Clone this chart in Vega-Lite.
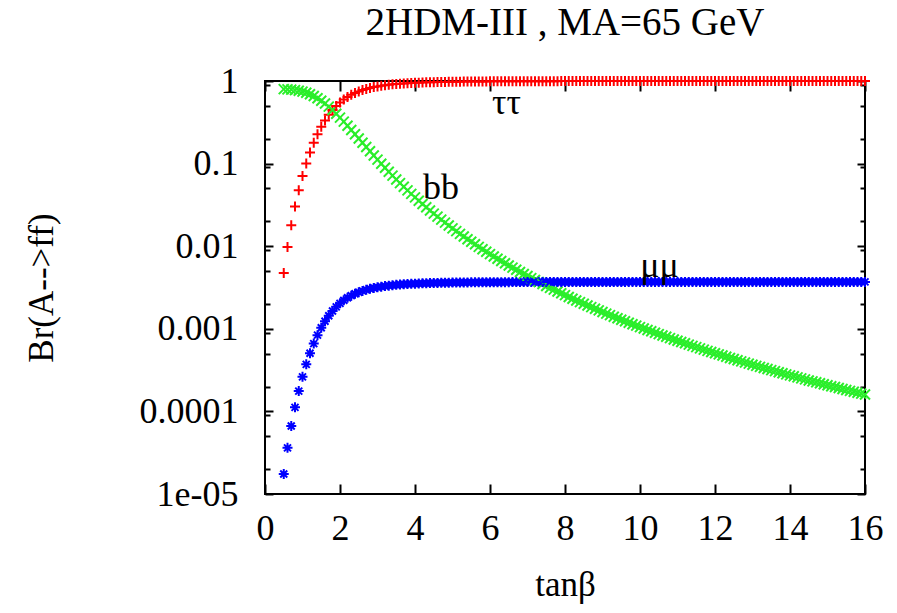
{
  "$schema": "https://vega.github.io/schema/vega-lite/v6.json",
  "width": 600,
  "height": 413,
  "autosize": "none",
  "padding": {"left": 265, "top": 81, "right": 32, "bottom": 119},
  "background": "white",
  "title": {"text": "2HDM-III , MA=65 GeV", "font": "Liberation Serif", "fontSize": 39, "fontWeight": "normal", "offset": 20, "anchor": "middle", "color": "black"},
  "config": {
    "view": {"stroke": "black", "strokeWidth": 2},
    "font": "Liberation Serif",
    "axis": {"labelFont": "Liberation Serif", "titleFont": "Liberation Serif", "labelColor": "black", "titleColor": "black", "titleFontWeight": "normal", "grid": false, "domain": false, "labelFlush": false, "labelOverlap": false}
  },
  "datasets": {
    "br": [
      {"t":0.5,"tt":0.00474,"bb":0.7965,"mm":0.0000175},
      {"t":0.6,"tt":0.00978,"bb":0.7925,"mm":0.0000362},
      {"t":0.7,"tt":0.01797,"bb":0.7859,"mm":0.0000665},
      {"t":0.8,"tt":0.03027,"bb":0.7761,"mm":0.000112},
      {"t":0.9,"tt":0.04763,"bb":0.7622,"mm":0.000176},
      {"t":1.0,"tt":0.0708,"bb":0.7436,"mm":0.000262},
      {"t":1.1,"tt":0.1004,"bb":0.720,"mm":0.000371},
      {"t":1.2,"tt":0.1365,"bb":0.691,"mm":0.000505},
      {"t":1.3,"tt":0.1788,"bb":0.657,"mm":0.000662},
      {"t":1.4,"tt":0.2265,"bb":0.619,"mm":0.000838},
      {"t":1.5,"tt":0.2784,"bb":0.5775,"mm":0.00103},
      {"t":1.6,"tt":0.3331,"bb":0.5337,"mm":0.001232},
      {"t":1.7,"tt":0.389,"bb":0.489,"mm":0.001439},
      {"t":1.8,"tt":0.4445,"bb":0.4446,"mm":0.001645},
      {"t":1.9,"tt":0.4983,"bb":0.4015,"mm":0.001844},
      {"t":2.0,"tt":0.5495,"bb":0.3606,"mm":0.002033},
      {"t":2.1,"tt":0.5971,"bb":0.3224,"mm":0.002209},
      {"t":2.2,"tt":0.641,"bb":0.2873,"mm":0.002372},
      {"t":2.3,"tt":0.6808,"bb":0.2554,"mm":0.002519},
      {"t":2.4,"tt":0.7166,"bb":0.2268,"mm":0.002651},
      {"t":2.5,"tt":0.7486,"bb":0.2012,"mm":0.00277},
      {"t":2.6,"tt":0.777,"bb":0.1785,"mm":0.002875},
      {"t":2.7,"tt":0.802,"bb":0.1585,"mm":0.002967},
      {"t":2.8,"tt":0.824,"bb":0.1408,"mm":0.003049},
      {"t":2.9,"tt":0.8435,"bb":0.1252,"mm":0.003121},
      {"t":3.0,"tt":0.8606,"bb":0.1116,"mm":0.003184},
      {"t":3.1,"tt":0.8756,"bb":0.0996,"mm":0.00324},
      {"t":3.2,"tt":0.8888,"bb":0.089,"mm":0.003289},
      {"t":3.3,"tt":0.9004,"bb":0.0797,"mm":0.003331},
      {"t":3.4,"tt":0.9106,"bb":0.0716,"mm":0.003369},
      {"t":3.5,"tt":0.9196,"bb":0.0643,"mm":0.003403},
      {"t":3.6,"tt":0.9275,"bb":0.058,"mm":0.003432},
      {"t":3.7,"tt":0.9346,"bb":0.0524,"mm":0.003458},
      {"t":3.8,"tt":0.9408,"bb":0.0474,"mm":0.003481},
      {"t":3.9,"tt":0.9463,"bb":0.043,"mm":0.003501},
      {"t":4.0,"tt":0.9512,"bb":0.039,"mm":0.003519},
      {"t":4.1,"tt":0.9556,"bb":0.0355,"mm":0.003536},
      {"t":4.2,"tt":0.9595,"bb":0.0324,"mm":0.00355},
      {"t":4.3,"tt":0.963,"bb":0.0296,"mm":0.003563},
      {"t":4.4,"tt":0.9662,"bb":0.0271,"mm":0.003575},
      {"t":4.5,"tt":0.969,"bb":0.0248,"mm":0.003585},
      {"t":4.6,"tt":0.9715,"bb":0.0228,"mm":0.003595},
      {"t":4.7,"tt":0.9738,"bb":0.021,"mm":0.003603},
      {"t":4.8,"tt":0.9759,"bb":0.0193,"mm":0.003611},
      {"t":4.9,"tt":0.9777,"bb":0.0178,"mm":0.003617},
      {"t":5.0,"tt":0.9794,"bb":0.01645,"mm":0.003624},
      {"t":5.1,"tt":0.981,"bb":0.01523,"mm":0.00363},
      {"t":5.2,"tt":0.9824,"bb":0.01411,"mm":0.003635},
      {"t":5.3,"tt":0.9836,"bb":0.01309,"mm":0.003639},
      {"t":5.4,"tt":0.9848,"bb":0.01216,"mm":0.003644},
      {"t":5.5,"tt":0.9859,"bb":0.01131,"mm":0.003648},
      {"t":5.6,"tt":0.9868,"bb":0.01054,"mm":0.003651},
      {"t":5.7,"tt":0.9877,"bb":0.00982,"mm":0.003654},
      {"t":5.8,"tt":0.9885,"bb":0.00917,"mm":0.003657},
      {"t":5.9,"tt":0.9893,"bb":0.00857,"mm":0.00366},
      {"t":6.0,"tt":0.99,"bb":0.00802,"mm":0.003663},
      {"t":6.1,"tt":0.9906,"bb":0.00751,"mm":0.003665},
      {"t":6.2,"tt":0.9912,"bb":0.00704,"mm":0.003667},
      {"t":6.3,"tt":0.9917,"bb":0.00661,"mm":0.003669},
      {"t":6.4,"tt":0.9922,"bb":0.00621,"mm":0.003671},
      {"t":6.5,"tt":0.9927,"bb":0.00584,"mm":0.003673},
      {"t":6.6,"tt":0.9931,"bb":0.0055,"mm":0.003674},
      {"t":6.7,"tt":0.9935,"bb":0.00518,"mm":0.003676},
      {"t":6.8,"tt":0.9939,"bb":0.00488,"mm":0.003677},
      {"t":6.9,"tt":0.9942,"bb":0.00461,"mm":0.003679},
      {"t":7.0,"tt":0.9946,"bb":0.00435,"mm":0.00368},
      {"t":7.1,"tt":0.9949,"bb":0.00411,"mm":0.003681},
      {"t":7.2,"tt":0.9951,"bb":0.00389,"mm":0.003682},
      {"t":7.3,"tt":0.9954,"bb":0.00368,"mm":0.003683},
      {"t":7.4,"tt":0.9956,"bb":0.00349,"mm":0.003684},
      {"t":7.5,"tt":0.9959,"bb":0.0033,"mm":0.003685},
      {"t":7.6,"tt":0.9961,"bb":0.00313,"mm":0.003686},
      {"t":7.7,"tt":0.9963,"bb":0.00298,"mm":0.003686},
      {"t":7.8,"tt":0.9965,"bb":0.00283,"mm":0.003687},
      {"t":7.9,"tt":0.9966,"bb":0.00269,"mm":0.003688},
      {"t":8.0,"tt":0.9968,"bb":0.002555,"mm":0.003688},
      {"t":8.1,"tt":0.997,"bb":0.002432,"mm":0.003689},
      {"t":8.2,"tt":0.9971,"bb":0.002316,"mm":0.003689},
      {"t":8.3,"tt":0.9972,"bb":0.002206,"mm":0.00369},
      {"t":8.4,"tt":0.9974,"bb":0.002103,"mm":0.00369},
      {"t":8.5,"tt":0.9975,"bb":0.002006,"mm":0.003691},
      {"t":8.6,"tt":0.9976,"bb":0.001915,"mm":0.003691},
      {"t":8.7,"tt":0.9977,"bb":0.001829,"mm":0.003691},
      {"t":8.8,"tt":0.9978,"bb":0.001747,"mm":0.003692},
      {"t":8.9,"tt":0.9979,"bb":0.00167,"mm":0.003692},
      {"t":9.0,"tt":0.998,"bb":0.001597,"mm":0.003693},
      {"t":9.1,"tt":0.9981,"bb":0.001528,"mm":0.003693},
      {"t":9.2,"tt":0.9982,"bb":0.001463,"mm":0.003693},
      {"t":9.3,"tt":0.9982,"bb":0.001401,"mm":0.003693},
      {"t":9.4,"tt":0.9983,"bb":0.001343,"mm":0.003694},
      {"t":9.5,"tt":0.9984,"bb":0.001287,"mm":0.003694},
      {"t":9.6,"tt":0.9985,"bb":0.001234,"mm":0.003694},
      {"t":9.7,"tt":0.9985,"bb":0.001184,"mm":0.003695},
      {"t":9.8,"tt":0.9986,"bb":0.001137,"mm":0.003695},
      {"t":9.9,"tt":0.9986,"bb":0.001092,"mm":0.003695},
      {"t":10.0,"tt":0.9987,"bb":0.001049,"mm":0.003695},
      {"t":10.1,"tt":0.9988,"bb":0.001008,"mm":0.003696},
      {"t":10.2,"tt":0.9988,"bb":0.000969,"mm":0.003696},
      {"t":10.3,"tt":0.9988,"bb":0.000932,"mm":0.003696},
      {"t":10.4,"tt":0.9988,"bb":0.000897,"mm":0.003696},
      {"t":10.5,"tt":0.9989,"bb":0.000863,"mm":0.003696},
      {"t":10.6,"tt":0.999,"bb":0.000831,"mm":0.003696},
      {"t":10.7,"tt":0.999,"bb":0.0008,"mm":0.003696},
      {"t":10.8,"tt":0.999,"bb":0.000771,"mm":0.003696},
      {"t":10.9,"tt":0.999,"bb":0.000743,"mm":0.003696},
      {"t":11.0,"tt":0.9991,"bb":0.000717,"mm":0.003697},
      {"t":11.1,"tt":0.9991,"bb":0.000691,"mm":0.003697},
      {"t":11.2,"tt":0.9992,"bb":0.000667,"mm":0.003697},
      {"t":11.3,"tt":0.9992,"bb":0.000643,"mm":0.003697},
      {"t":11.4,"tt":0.9992,"bb":0.000621,"mm":0.003697},
      {"t":11.5,"tt":0.9992,"bb":0.0006,"mm":0.003697},
      {"t":11.6,"tt":0.9993,"bb":0.00058,"mm":0.003697},
      {"t":11.7,"tt":0.9993,"bb":0.00056,"mm":0.003697},
      {"t":11.8,"tt":0.9993,"bb":0.000541,"mm":0.003697},
      {"t":11.9,"tt":0.9993,"bb":0.000523,"mm":0.003697},
      {"t":12.0,"tt":0.9994,"bb":0.000506,"mm":0.003698},
      {"t":12.1,"tt":0.9994,"bb":0.00049,"mm":0.003698},
      {"t":12.2,"tt":0.9994,"bb":0.000474,"mm":0.003698},
      {"t":12.3,"tt":0.9994,"bb":0.000458,"mm":0.003698},
      {"t":12.4,"tt":0.9994,"bb":0.000444,"mm":0.003698},
      {"t":12.5,"tt":0.9995,"bb":0.00043,"mm":0.003698},
      {"t":12.6,"tt":0.9995,"bb":0.000416,"mm":0.003698},
      {"t":12.7,"tt":0.9995,"bb":0.000403,"mm":0.003698},
      {"t":12.8,"tt":0.9995,"bb":0.000391,"mm":0.003698},
      {"t":12.9,"tt":0.9995,"bb":0.000379,"mm":0.003698},
      {"t":13.0,"tt":0.9995,"bb":0.000367,"mm":0.003698},
      {"t":13.1,"tt":0.9996,"bb":0.000356,"mm":0.003698},
      {"t":13.2,"tt":0.9996,"bb":0.000346,"mm":0.003698},
      {"t":13.3,"tt":0.9996,"bb":0.000335,"mm":0.003698},
      {"t":13.4,"tt":0.9996,"bb":0.000326,"mm":0.003698},
      {"t":13.5,"tt":0.9996,"bb":0.000316,"mm":0.003699},
      {"t":13.6,"tt":0.9996,"bb":0.000307,"mm":0.003699},
      {"t":13.7,"tt":0.9996,"bb":0.000298,"mm":0.003699},
      {"t":13.8,"tt":0.9996,"bb":0.000289,"mm":0.003699},
      {"t":13.9,"tt":0.9996,"bb":0.000281,"mm":0.003699},
      {"t":14.0,"tt":0.9997,"bb":0.000273,"mm":0.003699},
      {"t":14.1,"tt":0.9997,"bb":0.000266,"mm":0.003699},
      {"t":14.2,"tt":0.9997,"bb":0.000258,"mm":0.003699},
      {"t":14.3,"tt":0.9997,"bb":0.000251,"mm":0.003699},
      {"t":14.4,"tt":0.9997,"bb":0.000244,"mm":0.003699},
      {"t":14.5,"tt":0.9997,"bb":0.000237,"mm":0.003699},
      {"t":14.6,"tt":0.9997,"bb":0.000231,"mm":0.003699},
      {"t":14.7,"tt":0.9997,"bb":0.000225,"mm":0.003699},
      {"t":14.8,"tt":0.9997,"bb":0.000219,"mm":0.003699},
      {"t":14.9,"tt":0.9997,"bb":0.000213,"mm":0.003699},
      {"t":15.0,"tt":0.9997,"bb":0.000207,"mm":0.003699},
      {"t":15.1,"tt":0.9998,"bb":0.000202,"mm":0.003699},
      {"t":15.2,"tt":0.9998,"bb":0.000197,"mm":0.003699},
      {"t":15.3,"tt":0.9998,"bb":0.000192,"mm":0.003699},
      {"t":15.4,"tt":0.9998,"bb":0.000187,"mm":0.003699},
      {"t":15.5,"tt":0.9998,"bb":0.000182,"mm":0.003699},
      {"t":15.6,"tt":0.9998,"bb":0.000177,"mm":0.003699},
      {"t":15.7,"tt":0.9998,"bb":0.000173,"mm":0.003699},
      {"t":15.8,"tt":0.9998,"bb":0.000168,"mm":0.003699},
      {"t":15.9,"tt":0.9998,"bb":0.000164,"mm":0.003699},
      {"t":16.0,"tt":0.9998,"bb":0.00016,"mm":0.003699}
    ],
    "labels": [
      {"t":6.44,"v":0.54,"s":"ττ"},
      {"t":4.69,"v":0.0507,"s":"bb"},
      {"t":10.52,"v":0.00575,"s":"μμ"}
    ]
  },
  "layer": [
    {
      "data": {"name": "br"},
      "transform": [{"fold": ["tt", "bb", "mm"], "as": ["key", "value"]}],
      "mark": {"type": "point", "filled": false, "strokeWidth": 2, "size": 100, "opacity": 1},
      "encoding": {
        "x": {"field": "t", "type": "quantitative", "scale": {"domain": [0, 16], "nice": false, "zero": false},
          "axis": {"orient": "bottom", "values": [0, 2, 4, 6, 8, 10, 12, 14, 16], "title": "tanβ", "ticks": true, "tickSize": -10, "tickColor": "black", "tickWidth": 2, "labelPadding": 27, "labelFontSize": 36, "titleFontSize": 35, "titlePadding": 21}},
        "y": {"field": "value", "type": "quantitative", "scale": {"type": "log", "domain": [0.00001, 1], "nice": false},
          "axis": {"orient": "left", "values": [0.00001, 0.0001, 0.001, 0.01, 0.1, 1],
            "labelExpr": "datum.value == 1 ? '1' : datum.value == 0.1 ? '0.1' : datum.value == 0.01 ? '0.01' : datum.value == 0.001 ? '0.001' : datum.value == 0.0001 ? '0.0001' : '1e-05'",
            "ticks": true, "tickSize": -8, "tickColor": "black", "tickWidth": 2, "labelPadding": 35, "labelFontSize": 36, "labelBaseline": "middle", "title": "Br(A-->ff)", "titleFontSize": 35, "titlePadding": 80}},
        "color": {"field": "key", "type": "nominal", "scale": {"domain": ["tt", "bb", "mm"], "range": ["#ff0000", "#2aee2a", "#0000ff"]}, "legend": null},
        "shape": {"field": "key", "type": "nominal", "scale": {"domain": ["tt", "bb", "mm"], "range": ["M-1,0H1M0,-1V1", "M-1,-1L1,1M-1,1L1,-1", "M-1,0H1M0,-1V1M-0.7,-0.7L0.7,0.7M-0.7,0.7L0.7,-0.7"]}, "legend": null}
      }
    },
    {
      "data": {"name": "labels"},
      "mark": {"type": "text", "font": "Liberation Serif", "fontSize": 36, "color": "black", "align": "center", "baseline": "middle"},
      "encoding": {
        "x": {"field": "t", "type": "quantitative", "axis": null},
        "y": {"field": "v", "type": "quantitative", "scale": {"type": "log"}, "axis": null},
        "text": {"field": "s", "type": "nominal"}
      }
    },
    {
      "data": {"name": "br"},
      "mark": {"type": "point", "opacity": 0},
      "encoding": {
        "x": {"field": "t", "type": "quantitative", "axis": {"orient": "top", "values": [0, 2, 4, 6, 8, 10, 12, 14, 16], "labels": false, "title": null, "ticks": true, "tickSize": -10, "tickColor": "black", "tickWidth": 2}},
        "y": {"field": "bb", "type": "quantitative", "scale": {"type": "log"},
          "axis": {"orient": "right", "values": [0.00001, 0.0001, 0.001, 0.01, 0.1, 1], "labels": false, "title": null, "ticks": true, "tickSize": -8, "tickColor": "black", "tickWidth": 2}}
      }
    },
    {
      "data": {"name": "br"},
      "mark": {"type": "point", "opacity": 0},
      "encoding": {
        "x": {"field": "t", "type": "quantitative", "axis": null},
        "y": {"field": "mm", "type": "quantitative", "scale": {"type": "log"},
          "axis": {"orient": "left", "values": [0.00002, 0.00005, 0.00009, 0.0002, 0.0005, 0.0009, 0.002, 0.005, 0.009, 0.02, 0.05, 0.09, 0.2, 0.5, 0.9], "labels": false, "title": null, "ticks": true, "tickSize": -5, "tickColor": "black", "tickWidth": 2}}
      }
    },
    {
      "data": {"name": "br"},
      "mark": {"type": "point", "opacity": 0},
      "encoding": {
        "x": {"field": "t", "type": "quantitative", "axis": null},
        "y": {"field": "tt", "type": "quantitative", "scale": {"type": "log"},
          "axis": {"orient": "right", "values": [0.00002, 0.00005, 0.00009, 0.0002, 0.0005, 0.0009, 0.002, 0.005, 0.009, 0.02, 0.05, 0.09, 0.2, 0.5, 0.9], "labels": false, "title": null, "ticks": true, "tickSize": -5, "tickColor": "black", "tickWidth": 2}}
      }
    }
  ],
  "resolve": {"axis": {"x": "independent", "y": "independent"}}
}
